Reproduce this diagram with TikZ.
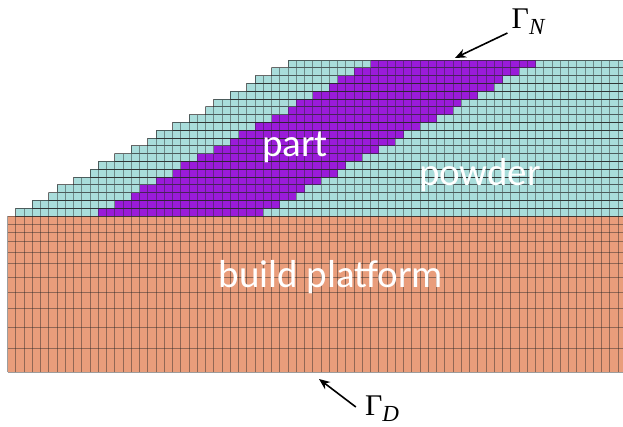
\documentclass[tikz,border=0pt]{standalone}
\usepackage{amsmath,amssymb}
\usepackage{xcolor}
\usepackage{fontspec}
\setmainfont{Carlito}
\newfontfamily\gammafont{Liberation Serif}
\usepackage{tikz}
\usetikzlibrary{arrows.meta,calc}
\definecolor{powdercol}{HTML}{A9DDDB}
\definecolor{partcol}{HTML}{9A1BD9}
\definecolor{platecol}{HTML}{E99D7B}
\newcommand{\gammasub}[1]{Γ\raisebox{-6pt}{\fontsize{23}{23}\selectfont\itshape #1}}
\tikzset{
  meshline/.style={line width=0.7pt,black!85,opacity=0.45},
  whitelabel/.style={text=white,font=\fontsize{39}{39}\selectfont,inner sep=0pt},
  gammalabel/.style={font=\gammafont\fontsize{30}{30}\selectfont,inner sep=0pt},
  boundarrow/.style={-{Stealth[length=11pt,width=9pt]},line width=1.6pt}
}
\begin{document}
\begin{tikzpicture}[x=1pt,y=-1pt,>=Stealth,line join=round]
  \useasboundingbox (0,0) rectangle (623,427);
  % build platform
  \fill[platecol] (7.5,216) rectangle (623,372);
  \foreach \ylayer in {216,224,232,241.7,252.3,263.7,277.7,292.3,308.7,327.3,348.3,372}
    \draw[meshline] (7.5,\ylayer) -- (623,\ylayer);
  \foreach \icol in {0,...,74}
    \draw[meshline] ({7.5+8.25*\icol},216) -- ({7.5+8.25*\icol},372);
  % powder bed and part, row by row
  \begin{scope}[shift={(7.5,216)},x=8.25pt,y=7.8pt]
    \foreach \irow/\istart in {1/1,2/3,3/5,4/6,5/8,6/10,7/11,8/13,9/15,10/17,
                               11/18,12/20,13/22,14/24,15/25,16/27,17/29,18/30,19/32,20/34}{
      \fill[powdercol] (\istart,\irow-1) rectangle (74.6,\irow);
      \fill[partcol] (\istart+10,\irow-1) rectangle (\istart+30,\irow);
      \draw[meshline,step=1] (\istart,\irow-1) grid (74.6,\irow);
      \draw[meshline] (\istart,\irow-1) rectangle (74.6,\irow);
    }
  \end{scope}
  % labels
  \node[whitelabel] (part) at (295,147) {part};
  \node[whitelabel] (powder) at (480,175) {powder};
  \node[whitelabel] (platform) at (331,277) {build platform};
  \node[gammalabel] (gammaN) at (528,22) {\gammasub{N}};
  \node[gammalabel] (gammaD) at (382,409) {\gammasub{D}};
  \coordinate (topend) at (455,58);
  \coordinate (botend) at (319,379);
  \draw[boundarrow] (gammaN.west)+(-4,11) coordinate (topstart) (topstart) -- (topend);
  \draw[boundarrow] (gammaD.west)+(-9,-2) coordinate (botstart) (botstart) -- (botend);
\end{tikzpicture}
\end{document}
